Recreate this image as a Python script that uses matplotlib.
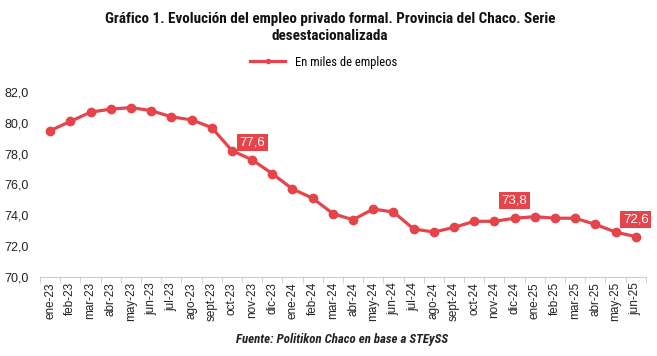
import numpy as np
import matplotlib.pyplot as plt

meses = ["ene-23", "feb-23", "mar-23", "abr-23", "may-23", "jun-23", "jul-23", "ago-23",
         "sept-23", "oct-23", "nov-23", "dic-23", "ene-24", "feb-24", "mar-24", "abr-24",
         "may-24", "jun-24", "jul-24", "ago-24", "sept-24", "oct-24", "nov-24", "dic-24",
         "ene-25", "feb-25", "mar-25", "abr-25", "may-25", "jun-25"]
empleo = [79.5, 80.1, 80.7, 80.9, 81.0, 80.8, 80.4, 80.2, 79.7, 78.2, 77.6, 76.7,
          75.7, 75.1, 74.1, 73.7, 74.4, 74.2, 73.1, 72.9, 73.2, 73.6, 73.6, 73.8,
          73.9, 73.8, 73.8, 73.4, 72.9, 72.6]
destacados = ["nov-23", "dic-24", "jun-25"]

rojo = "#E5444A"
cond = ["Roboto Condensed", "DejaVu Sans"]
arial = ["Liberation Sans", "DejaVu Sans"]

fig = plt.figure(figsize=(6.57, 3.56), dpi=100)
ax = fig.add_axes([0.061, 0.223, 0.922, 0.518])

x = np.arange(len(meses))
ax.plot(x, empleo, color=rojo, linewidth=2.3, marker="o", markersize=6,
        label="En miles de empleos")

# etiquetas de valores destacados
for m in destacados:
    i = meses.index(m)
    ax.annotate(f"{empleo[i]:.1f}".replace(".", ","), (x[i], empleo[i]),
                xytext=(0, 12.5), textcoords="offset points", ha="center", va="center",
                color="white", fontsize=9.5, family=arial,
                bbox=dict(boxstyle="square,pad=0.2", fc=rojo, ec="none"))

ax.set_xlim(-0.5, len(meses) - 0.5)
ax.set_ylim(70, 82)
yt = np.arange(70, 83, 2)
ax.set_yticks(yt)
ax.set_yticklabels([f"{v:.1f}".replace(".", ",") for v in yt],
                   fontsize=9, color="#222222", family=arial)
ax.set_xticks(x)
ax.set_xticklabels(meses, rotation=90, fontsize=8.5, color="#222222", family=arial)
ax.set_xticks(np.arange(-0.5, len(meses), 1), minor=True)
ax.tick_params(axis="x", which="major", length=0, pad=4)
ax.tick_params(axis="x", which="minor", length=4, color="#cccccc")
ax.tick_params(axis="y", length=0, pad=8)

for s in ["top", "right", "left"]:
    ax.spines[s].set_visible(False)
ax.spines["bottom"].set_color("#cccccc")

fig.text(0.502, 0.923, "Gráfico 1. Evolución del empleo privado formal. Provincia del Chaco. Serie\ndesestacionalizada",
         ha="center", va="center", fontsize=10.9, fontweight="bold", family=cond,
         linespacing=1.3, color="#111111")
ax.legend(loc="center", bbox_to_anchor=(0.493, 0.825), bbox_transform=fig.transFigure,
          frameon=False, handlelength=2.8, markerscale=0.5,
          prop={"family": cond, "size": 9})
fig.text(0.52, 0.045, "Fuente: Politikon Chaco en base a STEySS", ha="center", va="center",
         fontsize=9.3, fontweight="bold", fontstyle="italic", family=cond, color="#222222")

fig.savefig("out.png", dpi=100)
